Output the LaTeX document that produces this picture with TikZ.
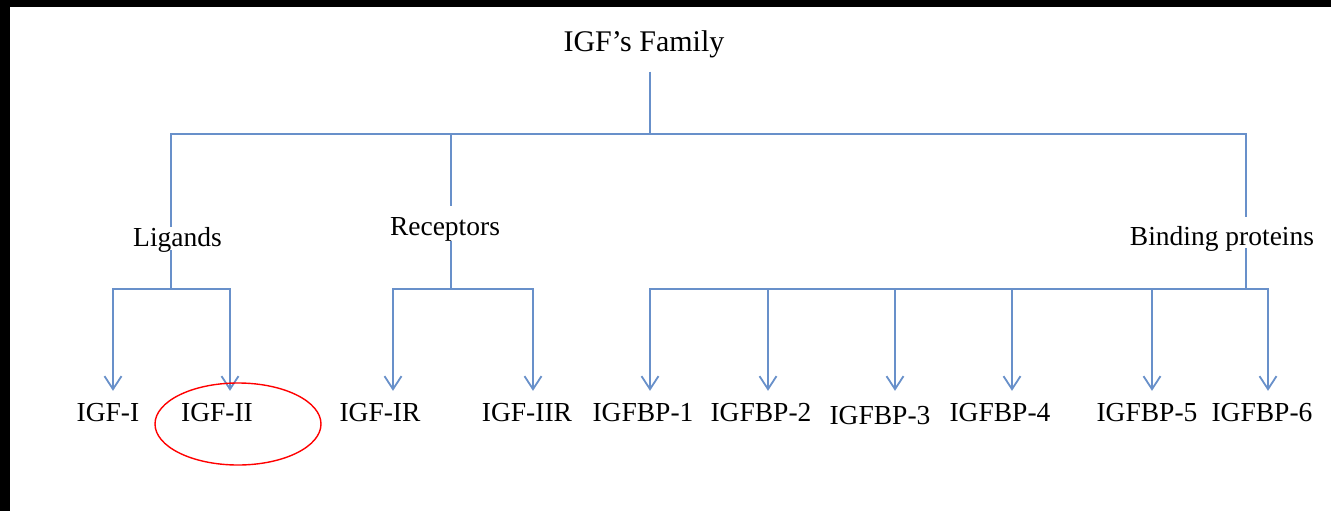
\documentclass[tikz,border=0pt]{standalone}
\usepackage{fontspec}
\setmainfont{Liberation Serif}
\usetikzlibrary{arrows.meta}
\definecolor{lineblue}{RGB}{104,144,202}
\tikzset{
  conn/.style={draw=lineblue, line width=2.2pt},
  arr/.style={conn, -{Straight Barb[length=13pt,width=17pt,line width=1.8pt]}, shorten >=11pt},
  lbl/.style={anchor=base, inner sep=0pt, font=\fontsize{27.5}{32}\selectfont, text height=19pt, text depth=6pt},
  ttl/.style={anchor=base, inner sep=0pt, font=\fontsize{30}{35}\selectfont}
}
\begin{document}
\begin{tikzpicture}[x=1pt,y=-1pt]
\useasboundingbox (0,0) rectangle (1331,511);
\fill[white] (0,0) rectangle (1331,511);
\fill[black] (0,0) rectangle (1331,7);
\fill[black] (0,0) rectangle (10,511);

% nodes
\node[ttl] (title) at (644,52) {IGF’s Family};
\node[lbl] (lig) at (177.5,246) {Ligands};
\node[lbl] (rec) at (445,235) {Receptors};
\node[lbl] (bin) at (1222,245) {Binding proteins};

\node[lbl] (l1) at (108,421) {IGF-I};
\node[lbl] (l2) at (217,421) {IGF-II};
\node[lbl] (l3) at (380,421) {IGF-IR};
\node[lbl] (l4) at (527,421) {IGF-IIR};
\node[lbl] (l5) at (643,421) {IGFBP-1};
\node[lbl] (l6) at (761,421) {IGFBP-2};
\node[lbl] (l7) at (880,424) {IGFBP-3};
\node[lbl] (l8) at (1000,421) {IGFBP-4};
\node[lbl] (l9) at (1147,421) {IGFBP-5};
\node[lbl] (l10) at (1262,421) {IGFBP-6};

% junction coordinates
\coordinate (tb) at (650,134);
\coordinate (tl) at (171,134);
\coordinate (tm) at (451,134);
\coordinate (tr) at (1246,134);

\coordinate (lj) at (171,289);
\coordinate (la) at (113,289);
\coordinate (lb) at (230,289);

\coordinate (rj) at (451,289);
\coordinate (ra) at (393,289);
\coordinate (rb) at (533,289);

\coordinate (bj) at (1246,289);
\coordinate (b1) at (650,289);
\coordinate (b2) at (768,289);
\coordinate (b3) at (895,289);
\coordinate (b4) at (1012,289);
\coordinate (b5) at (1152,289);
\coordinate (b6) at (1268,289);

% top level
\draw[conn, shorten <=13pt] (title.south -| tb) -- (tb);
\draw[conn, line cap=rect] (tl) -- (tr);
\draw[conn] (tl) -- (lig.north -| tl);
\draw[conn, shorten >=10pt] (tm) -- (rec.north -| tm);
\draw[conn, shorten >=9pt] (tr) -- (bin.north -| tr);

% ligands
\draw[conn, shorten <=-2pt] (lig.south -| lj) -- (lj);
\draw[conn, line cap=rect] (la) -- (lb);
\draw[arr] (la) -- (la |- l1.north);
\draw[arr] (lb) -- (lb |- l2.north);

% receptors
\draw[conn] (rec.south -| rj) -- (rj);
\draw[conn, line cap=rect] (ra) -- (rb);
\draw[arr] (ra) -- (ra |- l3.north);
\draw[arr] (rb) -- (rb |- l4.north);

% binding proteins
\draw[conn, shorten <=-3pt] (bin.south -| bj) -- (bj);
\draw[conn, line cap=rect] (b1) -- (b6);
\draw[arr] (b1) -- (b1 |- l5.north);
\draw[arr] (b2) -- (b2 |- l6.north);
\draw[arr, shorten >=14pt] (b3) -- (b3 |- l7.north);
\draw[arr] (b4) -- (b4 |- l8.north);
\draw[arr] (b5) -- (b5 |- l9.north);
\draw[arr] (b6) -- (b6 |- l10.north);

% red highlight ellipse
\draw[red, line width=1.4pt] (238,424) ellipse [x radius=83pt, y radius=41pt];
\end{tikzpicture}
\end{document}
